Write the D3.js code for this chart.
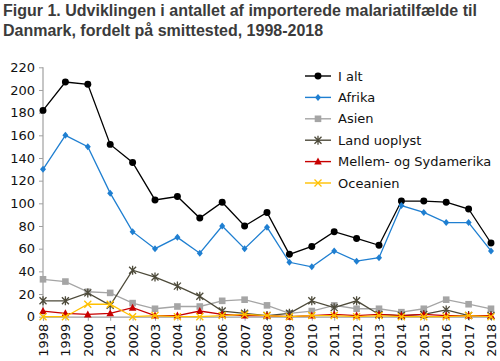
<!DOCTYPE html>
<html>
<head>
<meta charset="utf-8">
<script src="https://cdn.jsdelivr.net/npm/d3@7"></script>
<style>
  body { margin: 0; background: #fff; }
  svg { display: block; }
</style>
</head>
<body>
<div id="chart"></div>
<script>
// years on the x axis
const years = d3.range(1998, 2019).map(String);

const iAlt = [182, 207, 205, 152, 136, 103, 106, 87, 101, 80, 92, 55, 62, 75, 69, 63, 102, 102, 101, 95, 65];
const afrika = [130, 160, 150, 109, 75, 60, 70, 56, 80, 60, 79, 48, 44, 58, 49, 52, 98, 92, 83, 83, 58];
const asien = [33, 31, 22, 21, 12, 7, 9, 9, 14, 15, 10, 3, 5, 10, 7, 7, 4, 7, 15, 11, 7];
const landUoplyst = [14, 14, 21, 10, 41, 35, 27, 18, 5, 3, 1, 3, 14, 8, 14, 2, 1, 2, 6, 1, 1];
const mellemSyd = [5, 3, 2, 3, 8, 1, 1, 5, 2, 1, 1, 0, 1, 2, 1, 2, 1, 2, 1, 1, 1];
const oceanien = [0, 0, 11, 11, 0, 1, 0, 0, 1, 2, 1, 0, 1, 1, 0, 1, 0, 0, 0, 1, 0];

const yTicks = d3.range(0, 221, 20);

const series = [
    { name: "I alt", values: iAlt, color: "#000000", marker: "circle" },
    { name: "Afrika", values: afrika, color: "#1f7fd1", marker: "diamond" },
    { name: "Asien", values: asien, color: "#a5a5a5", marker: "square" },
    { name: "Land uoplyst", values: landUoplyst, color: "#4d4a3a", marker: "star" },
    { name: "Mellem- og Sydamerika", values: mellemSyd, color: "#c80000", marker: "triangle" },
    { name: "Oceanien", values: oceanien, color: "#ffc000", marker: "cross" }
];

const width = 500, height = 361;
const font = "'DejaVu Sans', sans-serif";

const svg = d3.select("#chart").append("svg")
    .attr("width", width)
    .attr("height", height);

// title - shrink the font until the first line fits the width of the original
const title = svg.append("g")
    .style("font-family", "'Liberation Sans', Arial, sans-serif")
    .style("font-weight", "bold")
    .style("font-size", "16px")
    .attr("fill", "#3b3b3b");
const t1 = title.append("text").attr("x", 3).attr("y", 16)
    .text("Figur 1. Udviklingen i antallet af importerede malariatilfælde til");
title.append("text").attr("x", 3).attr("y", 36)
    .text("Danmark, fordelt på smittested, 1998-2018");
const natural = t1.node().getComputedTextLength();
if (natural > 478) title.style("font-size", (16 * 478 / natural).toFixed(2) + "px");

const x = d3.scalePoint().domain(years).range([43, 491]);
const y = d3.scaleLinear().domain([0, 220]).range([316.7, 67.3]);

// axes
const yAxis = svg.append("g")
    .attr("transform", "translate(43,0)")
    .call(d3.axisLeft(y).tickValues(yTicks).tickSize(4).tickPadding(4));
const xAxis = svg.append("g")
    .attr("transform", "translate(0," + y(0) + ")")
    .call(d3.axisBottom(x).tickSize(4).tickPadding(5));

[yAxis, xAxis].forEach(a => {
    a.select(".domain").attr("stroke", "#a0a0a0").attr("stroke-width", 1.2);
    a.selectAll(".tick line").attr("stroke", "#a0a0a0");
    a.selectAll("text")
        .style("font-family", font)
        .style("font-size", "13px")
        .attr("fill", "#111");
});
yAxis.select(".domain").attr("d", "M0," + y(220) + "V" + y(0));

xAxis.selectAll(".tick text")
    .attr("transform", "rotate(-90)")
    .attr("text-anchor", "end")
    .attr("x", -7)
    .attr("y", 0)
    .attr("dy", "0.35em");

function markerPath(type) {
    switch (type) {
        case "circle": return d3.symbol(d3.symbolCircle, 38)();
        case "diamond": return "M0,-3.5L3,0L0,3.5L-3,0Z";
        case "square": return "M-3.3,-3.3H3.3V3.3H-3.3Z";
        case "triangle": return "M0,-4L3.8,3L-3.8,3Z";
        case "star": return "M-3.5,-3.5L3.5,3.5M-3.5,3.5L3.5,-3.5M0,-4.5V4.5";
        case "cross": return "M-3.5,-3.5L3.5,3.5M-3.5,3.5L3.5,-3.5";
    }
}
const strokeOnly = m => m === "star" || m === "cross";

const line = d3.line()
    .x((d, i) => x(years[i]))
    .y(d => y(d));

const plot = svg.append("g");
series.forEach(s => {
    const g = plot.append("g");
    g.append("path")
        .datum(s.values)
        .attr("d", line)
        .attr("fill", "none")
        .attr("stroke", s.color)
        .attr("stroke-width", 1.3);
    g.selectAll(".m")
        .data(s.values)
        .enter()
        .append("path")
        .attr("class", "m")
        .attr("transform", (d, i) => "translate(" + x(years[i]) + "," + y(d) + ")")
        .attr("d", markerPath(s.marker))
        .attr("fill", strokeOnly(s.marker) ? "none" : s.color)
        .attr("stroke", s.color)
        .attr("stroke-width", strokeOnly(s.marker) ? 1.3 : 0);
});

// legend
const legend = svg.append("g")
    .attr("transform", "translate(305,76)");
const rows = legend.selectAll(".row")
    .data(series)
    .enter()
    .append("g")
    .attr("class", "row")
    .attr("transform", (d, i) => "translate(0," + (i * 21.4) + ")");
rows.append("line")
    .attr("x1", 0).attr("x2", 26)
    .attr("stroke", d => d.color)
    .attr("stroke-width", 1.4);
rows.append("path")
    .attr("transform", "translate(13,0)")
    .attr("d", d => markerPath(d.marker))
    .attr("fill", d => strokeOnly(d.marker) ? "none" : d.color)
    .attr("stroke", d => d.color)
    .attr("stroke-width", d => strokeOnly(d.marker) ? 1.3 : 0);
rows.append("text")
    .attr("x", 33)
    .attr("dy", "0.35em")
    .style("font-family", font)
    .style("font-size", "13px")
    .attr("fill", "#111")
    .text(d => d.name);
</script>
</body>
</html>
